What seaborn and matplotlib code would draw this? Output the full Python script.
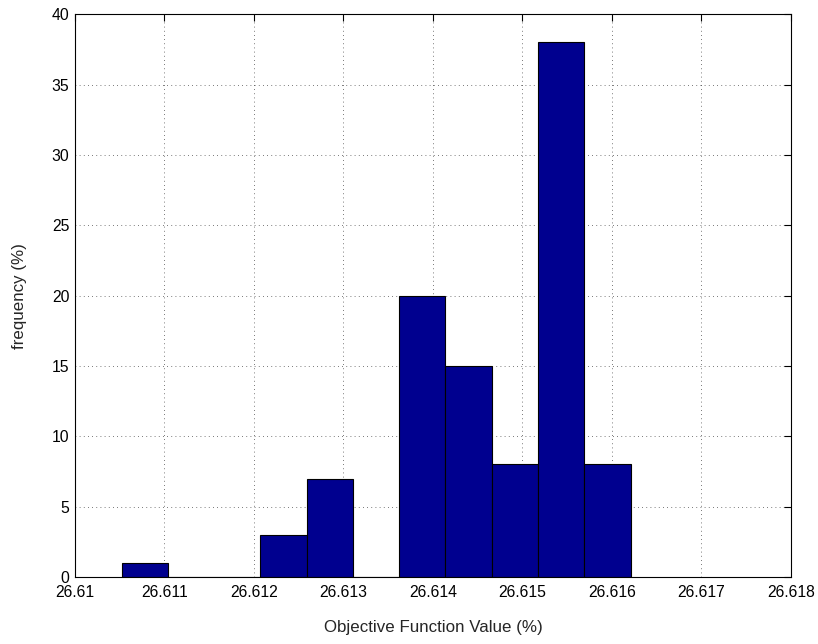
import numpy as np
import pandas as pd
import matplotlib
matplotlib.use("Agg")
import matplotlib.pyplot as plt
import seaborn as sns

# histogram of objective function values (percent of runs per bin)
bin_start = 26.61052
bin_end = 26.61621
freq = [1, 0, 0, 3, 7, 0, 20, 15, 8, 38, 8]
xticks = [26.61, 26.611, 26.612, 26.613, 26.614, 26.615, 26.616, 26.617, 26.618]
xticklabels = ["26.61", "26.611", "26.612", "26.613", "26.614", "26.615", "26.616", "26.617", "26.618"]
yticks = [0, 5, 10, 15, 20, 25, 30, 35, 40]

sns.set_style("white")
plt.rcParams['font.family'] = ['Liberation Sans', 'DejaVu Sans']

edges = np.linspace(bin_start, bin_end, len(freq) + 1)
df = pd.DataFrame({"value": (edges[:-1] + edges[1:]) / 2, "freq": freq})

fig = plt.figure(figsize=(8.18, 6.44), dpi=100)
ax = fig.add_axes([0.0917, 0.104, 0.875, 0.874])
sns.histplot(data=df, x="value", weights="freq", bins=list(edges), ax=ax,
             color="#00008F", edgecolor="black", linewidth=0.8, alpha=1.0)

ax.set_xlim(26.61, 26.618)
ax.set_ylim(0, 40)
ax.set_xticks(xticks)
ax.set_xticklabels(xticklabels)
ax.set_yticks(yticks)
ax.grid(True, linestyle=(0, (1, 4)), color="black", linewidth=0.6, alpha=0.7)
ax.set_axisbelow(True)
ax.tick_params(direction="in", length=5, top=True, right=True, labelsize=11.3,
               colors="black", pad=4)
ax.tick_params(axis="x", pad=6)
for s in ax.spines.values():
    s.set_visible(True)
    s.set_color("black")
    s.set_linewidth(0.8)
ax.set_xlabel("Objective Function Value (%)", fontsize=12.2, labelpad=14)
ax.set_ylabel("frequency (%)", fontsize=12.2, labelpad=18)

fig.savefig("out.png", dpi=100)
